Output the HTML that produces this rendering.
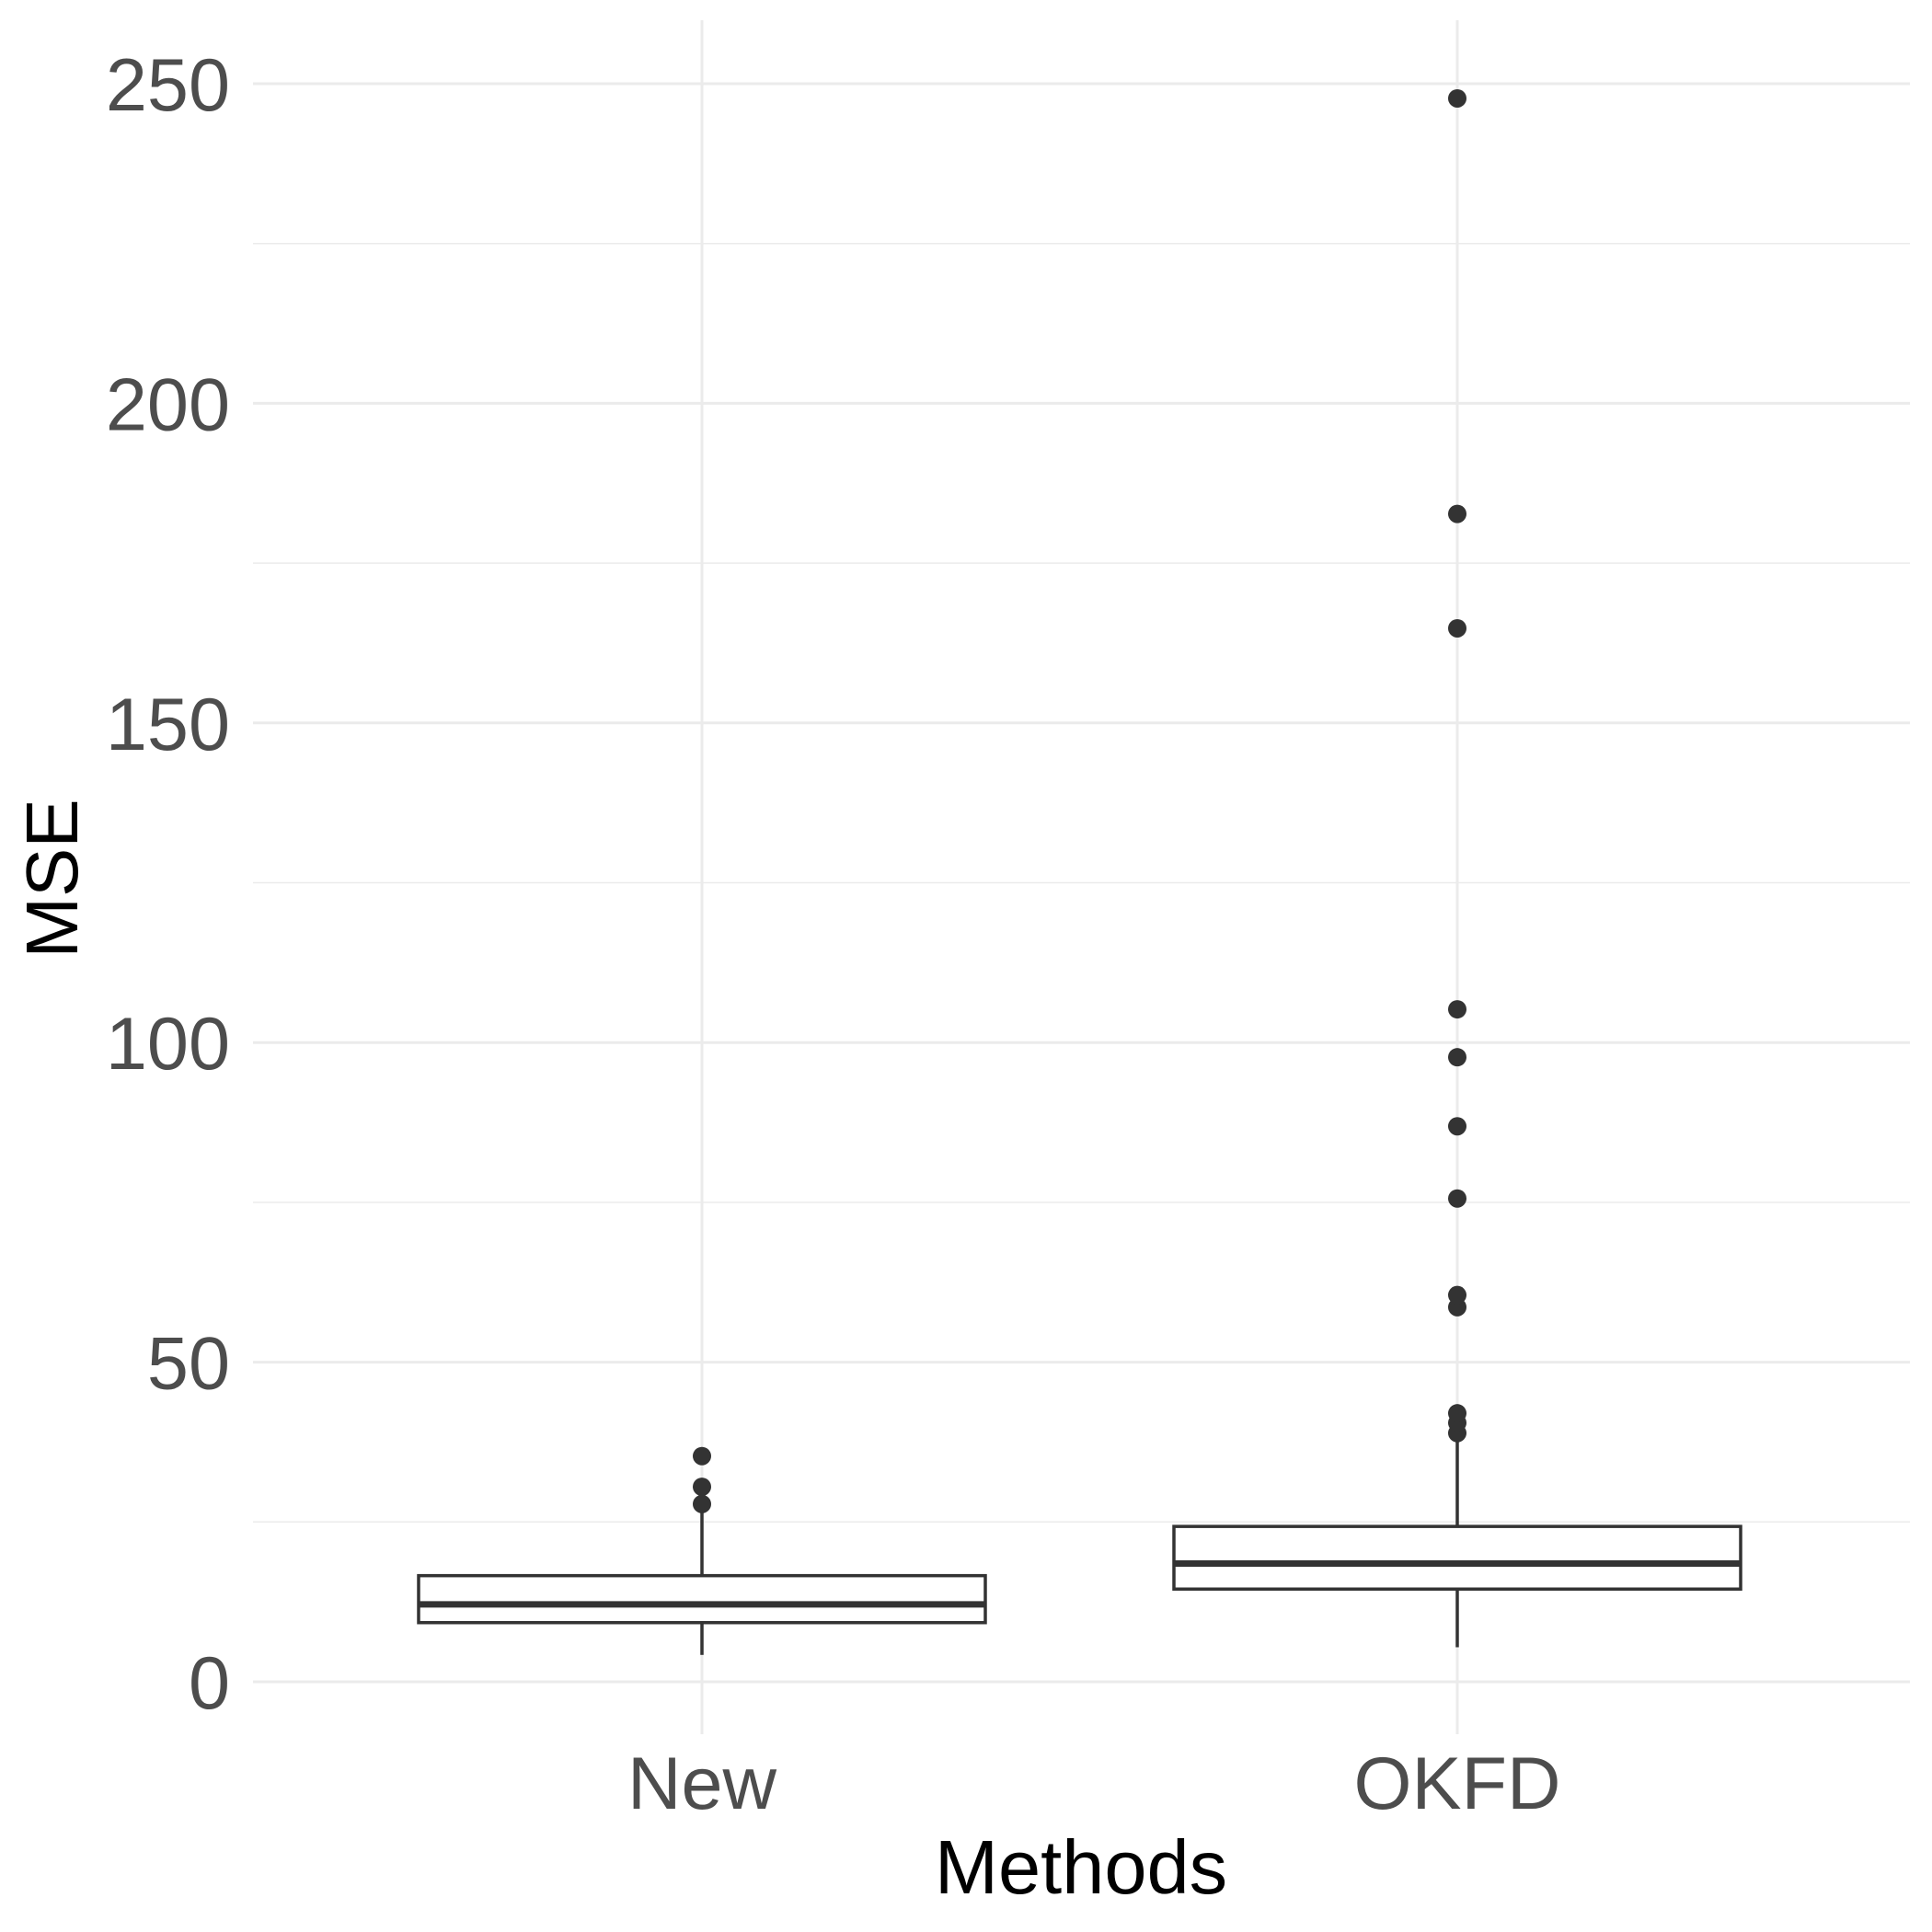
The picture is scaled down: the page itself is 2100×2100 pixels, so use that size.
<!DOCTYPE html>
<html><head><meta charset="utf-8"><style>
html,body{margin:0;padding:0;background:#fff}
svg{display:block}
text{font-family:"Liberation Sans",sans-serif}
</style></head><body>
<svg id="chart" width="2100" height="2100" viewBox="0 0 2100 2100">
<g id="grid"></g>
<g id="boxes"></g>
<g id="labels"></g>
<text x="1175" y="2058" font-size="83" text-anchor="middle" fill="#000">Methods</text>
<text transform="translate(84,955) rotate(-90)" font-size="80" text-anchor="middle" fill="#000">MSE</text>
</svg>
<script>
const categories = ["New", "OKFD"];
const q1 = [9.25, 14.5];
const medians = [12.1, 18.5];
const q3 = [16.6, 24.3];
const whiskerLow = [4.2, 5.4];
const whiskerHigh = [27.8, 38.9];
const outliersNew = [27.8, 30.5, 35.3];
const outliersOKFD = [38.9, 40.5, 42, 58.6, 60.5, 75.6, 86.9, 97.7, 105.2, 164.8, 182.7, 247.7];
const outliers = [outliersNew, outliersOKFD];
const yTicks = [0, 50, 100, 150, 200, 250];
const yMinor = [25, 75, 125, 175, 225];

const NS = "http://www.w3.org/2000/svg";
const plotLeft = 275, plotRight = 2076, plotTop = 22, plotBottom = 1885;
function y(v){ return 1828 - v * (1828 - 91) / 250; }
function x(i){ return 763 + i * 821; }
const halfW = 308;
function mk(tag, attrs, parent){
  const e = document.createElementNS(NS, tag);
  for (const k in attrs) e.setAttribute(k, attrs[k]);
  parent.appendChild(e); return e;
}
const grid = document.getElementById('grid');
const boxes = document.getElementById('boxes');
const labels = document.getElementById('labels');
yMinor.forEach(v => {
  const l = mk('line', {x1:plotLeft, x2:plotRight, y1:y(v), y2:y(v), stroke:'#ebebeb', 'stroke-width':1.5}, grid);
  
  
});
yTicks.forEach(v => {
  const l = mk('line', {x1:plotLeft, x2:plotRight, y1:y(v), y2:y(v), stroke:'#ebebeb', 'stroke-width':3}, grid);
  
  
  const t = mk('text', {x:250, y:y(v)+29, 'font-size':81, 'text-anchor':'end', fill:'#4d4d4d'}, labels);
  t.textContent = v;
  
  
});
categories.forEach((c, i) => {
  const l = mk('line', {x1:x(i), x2:x(i), y1:plotTop, y2:plotBottom, stroke:'#ebebeb', 'stroke-width':3}, grid);
  
  
  const t = mk('text', {x:x(i), y:1966, 'font-size':81, 'text-anchor':'middle', fill:'#4d4d4d'}, labels);
  t.textContent = c;
  
  
  const g = mk('g', {}, boxes);
  
  
  mk('line', {x1:x(i), x2:x(i), y1:y(q3[i]), y2:y(whiskerHigh[i]), stroke:'#333', 'stroke-width':3.5}, g);
  mk('line', {x1:x(i), x2:x(i), y1:y(q1[i]), y2:y(whiskerLow[i]), stroke:'#333', 'stroke-width':3.5}, g);
  mk('rect', {x:x(i)-halfW, y:y(q3[i]), width:2*halfW, height:y(q1[i])-y(q3[i]), fill:'#fff', stroke:'#333', 'stroke-width':3.5}, g);
  mk('line', {x1:x(i)-halfW, x2:x(i)+halfW, y1:y(medians[i]), y2:y(medians[i]), stroke:'#333', 'stroke-width':7}, g);
  outliers[i].forEach(v => {
    const p = mk('circle', {cx:x(i), cy:y(v), r:10, fill:'#333'}, g);
    
    
  });
});
</script>
</body></html>
